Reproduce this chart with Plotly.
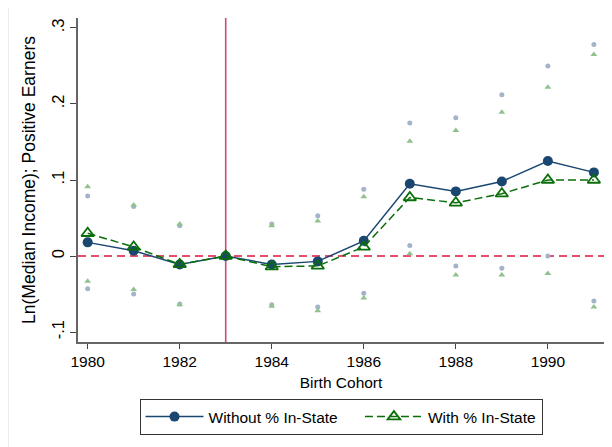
import plotly.graph_objects as go

# birth cohorts (1983 is the reference cohort)
years = [1980, 1981, 1982, 1983, 1984, 1985, 1986, 1987, 1988, 1989, 1990, 1991]

without_est = [0.018, 0.007, -0.011, 0.0, -0.011, -0.007, 0.020, 0.095, 0.085, 0.098, 0.125, 0.110]
with_est = [0.030, 0.012, -0.011, 0.0, -0.014, -0.013, 0.012, 0.077, 0.070, 0.082, 0.100, 0.100]

without_hi = [0.079, 0.065, 0.040, None, 0.042, 0.053, 0.088, 0.175, 0.182, 0.212, 0.250, 0.278]
without_lo = [-0.043, -0.050, -0.063, None, -0.064, -0.067, -0.049, 0.014, -0.013, -0.016, 0.000, -0.059]
with_hi = [0.091, 0.067, 0.042, None, 0.040, 0.046, 0.078, 0.151, 0.165, 0.189, 0.222, 0.265]
with_lo = [-0.033, -0.044, -0.064, None, -0.066, -0.072, -0.055, 0.003, -0.025, -0.025, -0.023, -0.067]

y_ticks = [-0.1, 0, 0.1, 0.2, 0.3]
y_ticklabels = ["-.1", "0", ".1", ".2", ".3"]
x_ticks = [1980, 1982, 1984, 1986, 1988, 1990]

blue = "#1a476f"
green = "#0a6e0a"
blue_ci = "#a4b4c8"
green_ci = "#8fc28f"
font = "Liberation Sans, Arial, sans-serif"

fig = go.Figure()

# confidence bounds, drawn as small dots
for hi_lo in (without_hi, without_lo):
    fig.add_trace(go.Scatter(x=years, y=hi_lo, mode="markers", showlegend=False,
                             marker=dict(symbol="circle", size=5, color=blue_ci)))
for hi_lo in (with_hi, with_lo):
    fig.add_trace(go.Scatter(x=years, y=hi_lo, mode="markers", showlegend=False,
                             marker=dict(symbol="triangle-up", size=6, color=green_ci)))

fig.add_trace(go.Scatter(x=years, y=without_est, mode="lines+markers",
                         name="Without % In-State\u00a0\u00a0\u00a0\u00a0",
                         line=dict(color=blue, width=1.5),
                         marker=dict(symbol="circle", size=10, color=blue)))
fig.add_trace(go.Scatter(x=years, y=with_est, mode="lines+markers", name="With % In-State",
                         line=dict(color=green, width=1.5, dash="8px,4px"),
                         marker=dict(symbol="triangle-up-open", size=11, color=green,
                                     line=dict(width=1.8, color=green))))

fig.add_vline(x=1983, line=dict(color="#d04a6e", width=1.6), layer="below")
fig.add_hline(y=0, line=dict(color="#dc143c", width=1.5, dash="8px,5px"), layer="below")

# faint left edge of the original export
fig.add_shape(type="line", xref="paper", yref="paper", x0=-0.1325, x1=-0.1325, y0=-0.33, y1=1.05,
              line=dict(color="#e4ebee", width=1), layer="below")

# the page adds an 8px body margin, so the figure is sized to fill the rest
fig.update_layout(
    width=604, height=439,
    margin=dict(l=70, r=8, t=10, b=105, autoexpand=False),
    plot_bgcolor="white", paper_bgcolor="white",
    font=dict(family=font, size=15, color="black"),
    legend=dict(orientation="h", x=0.5, xanchor="center", y=-0.176, yanchor="top",
                bordercolor="#333333", borderwidth=1, bgcolor="white",
                font=dict(size=15.5), itemwidth=58, tracegroupgap=0),
    xaxis=dict(range=[1979.79, 1991.22], tickvals=x_ticks, showgrid=False, zeroline=False,
               showline=True, linecolor="#666666", linewidth=1.5, automargin=False,
               ticks="outside", ticklen=5, tickcolor="#444444", tickfont=dict(size=15.5),
               title=dict(text="Birth Cohort", standoff=8, font=dict(size=15.5))),
    yaxis=dict(range=[-0.113, 0.313], tickvals=y_ticks, ticktext=y_ticklabels, tickangle=-90,
               showgrid=False, zeroline=False, automargin=False,
               showline=True, linecolor="#666666", linewidth=1.5,
               ticks="outside", ticklen=6, tickcolor="#444444", tickfont=dict(size=16.5),
               title=dict(text="Ln(Median Income); Positive Earners", standoff=9,
                          font=dict(size=17.5))),
)

fig.write_html("out.html")
